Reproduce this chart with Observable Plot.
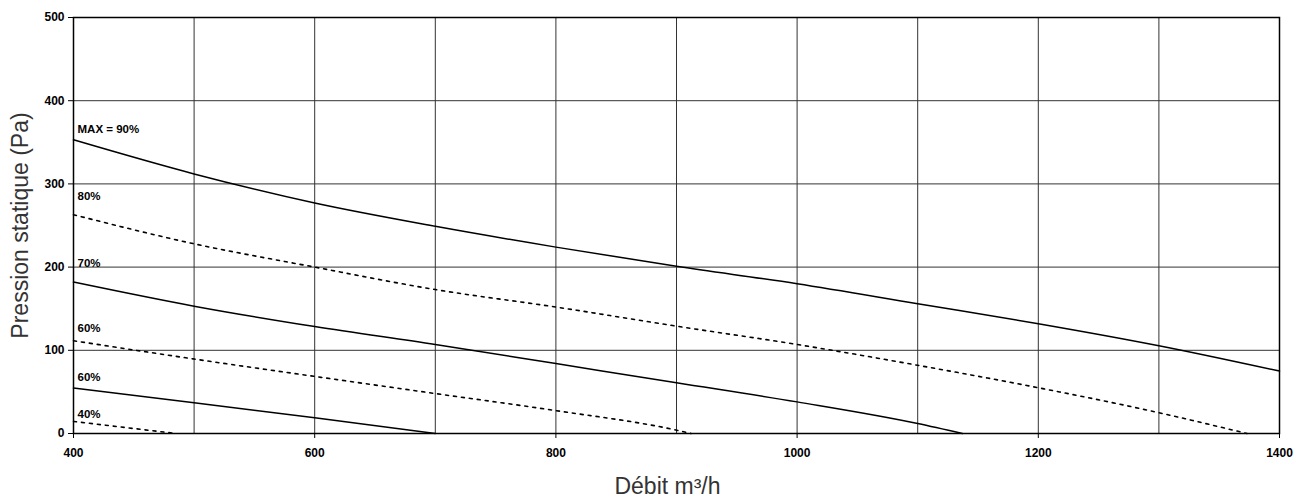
<!DOCTYPE html>
<html>
<head>
<meta charset="utf-8">
<script src="https://cdn.jsdelivr.net/npm/d3@7"></script>
<script src="https://cdn.jsdelivr.net/npm/@observablehq/plot@0.6"></script>
<style>
  html, body { margin: 0; padding: 0; background: #fff; }
  #chart { width: 1304px; height: 500px; }
</style>
</head>
<body>
<div id="chart"></div>
<script>
// ---- Data ----
const xTicks = [400, 600, 800, 1000, 1200, 1400];
const yTicks = [0, 100, 200, 300, 400, 500];
const xGrid = [500, 600, 700, 800, 900, 1000, 1100, 1200, 1300];
const yGrid = [100, 200, 300, 400];

const flowMax = [400, 500, 600, 700, 800, 900, 1000, 1100, 1200, 1300, 1400];
const presMax = [353, 312, 277, 249, 224, 201, 180, 156, 132, 105.5, 75];

const flow80 = [400, 500, 600, 700, 800, 900, 1000, 1100, 1200, 1300, 1373];
const pres80 = [263, 228, 200, 173, 152, 129, 107, 82, 55, 25, 0];

const flow70 = [400, 500, 600, 700, 800, 900, 1000, 1100, 1137];
const pres70 = [182, 153, 128.5, 107, 84, 61, 38, 12, 0];

const flow60d = [400, 500, 600, 700, 800, 900, 912];
const pres60d = [111.5, 89.5, 68.6, 48, 27.5, 4, 0];

const flow60s = [400, 500, 600, 700];
const pres60s = [54.6, 37, 19, 0];

const flow40 = [400, 485];
const pres40 = [14.5, 0];

const curveNames = ["MAX = 90%", "80%", "70%", "60%", "60%", "40%"];
const curveDashed = [false, true, false, true, false, true];
const labelPres = [366, 285, 205, 126, 67, 23.6];

const xTitle = "Débit m³/h";
const yTitle = "Pression statique (Pa)";

// ---- Build tables ----
const flows = [flowMax, flow80, flow70, flow60d, flow60s, flow40];
const press = [presMax, pres80, pres70, pres60d, pres60s, pres40];
const points = [];
flows.forEach((fs, i) => fs.forEach((f, j) => points.push({id: i, flow: f, pres: press[i][j], dashed: curveDashed[i]})));
const solidPts = points.filter(d => !d.dashed);
const dashedPts = points.filter(d => d.dashed);
const labels = curveNames.map((n, i) => ({name: n, flow: 400, pres: labelPres[i]}));

const font = "'Liberation Sans', Arial, Helvetica, sans-serif";

const chart = Plot.plot({
  width: 1304,
  height: 500,
  marginLeft: 73,
  marginRight: 25,
  marginTop: 17,
  marginBottom: 67,
  style: {fontFamily: font, background: "#fff", color: "#000"},
  x: {domain: [400, 1400]},
  y: {domain: [0, 500]},
  marks: [
    Plot.ruleX(xGrid, {stroke: "#333", strokeWidth: 1}),
    Plot.ruleY(yGrid, {stroke: "#333", strokeWidth: 1}),
    Plot.axisX({ticks: xTicks, tickSize: 5, tickPadding: 10, tickFormat: d => String(d), fontSize: 12, fontWeight: "bold", label: null, stroke: "#000"}),
    Plot.axisY({ticks: yTicks, tickSize: 5, tickPadding: 4, tickFormat: d => String(d), fontSize: 12, fontWeight: "bold", label: null, stroke: "#000"}),
    Plot.line(solidPts, {x: "flow", y: "pres", z: "id", stroke: "#000", strokeWidth: 1.5, curve: "monotone-x"}),
    Plot.line(dashedPts, {x: "flow", y: "pres", z: "id", stroke: "#000", strokeWidth: 1.6, strokeDasharray: "3,5", curve: "monotone-x"}),
    Plot.text(labels, {x: "flow", y: "pres", text: "name", textAnchor: "start", dx: 4, fontSize: 11.5, fontWeight: "bold", fill: "#000"}),
    Plot.frame({stroke: "#000", strokeWidth: 1.5}),
    Plot.text([xTitle], {frameAnchor: "bottom", textAnchor: "middle", lineAnchor: "middle", dx: -9, dy: 53, fontSize: 23, fill: "#333", fontFamily: font}),
    Plot.text([yTitle], {frameAnchor: "left", textAnchor: "middle", lineAnchor: "middle", rotate: -90, dx: -53, fontSize: 23, fill: "#333", fontFamily: font})
  ]
});
document.getElementById("chart").appendChild(chart);
</script>
</body>
</html>
